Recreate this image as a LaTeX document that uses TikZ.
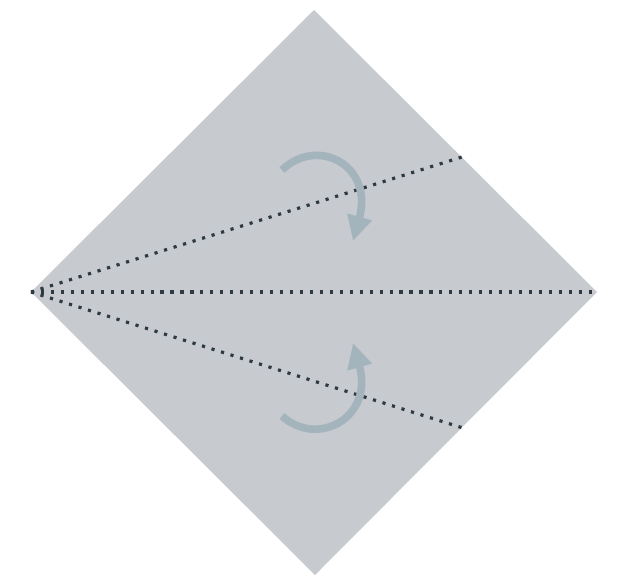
\documentclass[tikz,border=0pt]{standalone}
\usepackage{xcolor}
\usetikzlibrary{arrows.meta}

\definecolor{paper}{RGB}{199,202,206}
\definecolor{creasec}{RGB}{45,58,68}
\definecolor{arrowc}{RGB}{163,180,189}

\begin{document}
\begin{tikzpicture}[
    x=0.03cm, y=-0.03cm,
    sheet/.style={fill=paper, draw=none},
    crease/.style={draw=creasec, line width=2.7pt, dash pattern=on 2.7pt off 5.8pt},
    foldarrow/.style={draw=arrowc, line width=6.5pt, -{Triangle[length=0.75cm, width=0.72cm]}}
]
    \useasboundingbox (0,0) rectangle (626,581);
    % corners of the square
    \coordinate (top) at (314,10);
    \coordinate (right) at (597,292);
    \coordinate (bottom) at (315,575);
    \coordinate (left) at (31,292);
    \coordinate (edgeup) at (462,157);
    \coordinate (edgedown) at (463,428);

    \path [sheet] (top) -- (right) -- (bottom) -- (left) -- cycle;

    % creases
    \draw [crease] (left) -- (right);
    \draw [crease] (left) -- (edgeup);
    \draw [crease] (left) -- (edgedown);

    % fold arrows
    \draw [foldarrow] (282,170) .. controls (317,136) and (374,165) .. (353,241);
    \draw [foldarrow] (282,416) .. controls (317,448) and (374,418) .. (353,343);
\end{tikzpicture}
\end{document}
